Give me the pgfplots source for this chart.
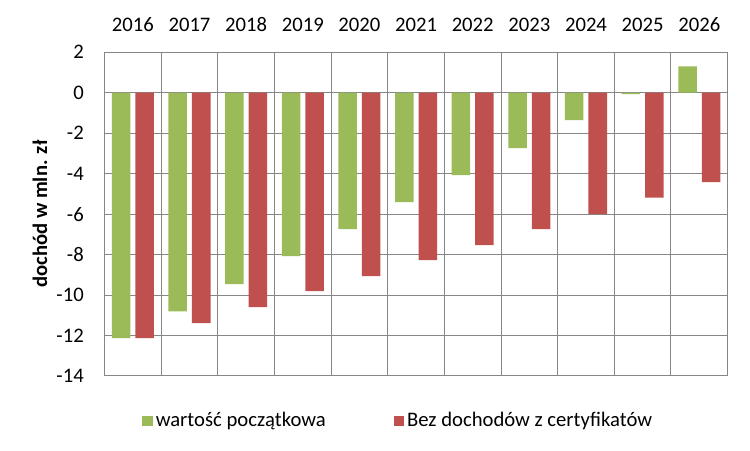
\documentclass[border=0pt]{standalone}
\usepackage{fontspec}
\setmainfont{Carlito}
\usepackage{pgfplots}
\pgfplotsset{compat=1.18}
\definecolor{zielony}{HTML}{9BBB59}
\definecolor{czerwony}{HTML}{C0504D}
\definecolor{siatka}{HTML}{868686}

\begin{document}
\fontsize{15.5}{18}\selectfont
\begin{tikzpicture}
\path[use as bounding box] (0,0) rectangle (562.5pt,337.5pt);
\begin{axis}[
    at={(78.4pt,55.5pt)}, anchor=south west,
    width=467.3pt, height=242.8pt, scale only axis,
    ybar=3.75pt, bar width=13.9pt,
    xmin=-0.5, xmax=10.5, ymin=-14, ymax=2,
    ytick distance=2,
    xtick={0,...,10},
    xticklabels={2016,2017,2018,2019,2020,2021,2022,2023,2024,2025,2026},
    minor xtick={-0.5,0.5,...,10.5},
    xminorgrids, ymajorgrids,
    grid style={siatka, line width=0.75pt},
    minor grid style={siatka, line width=0.75pt},
    axis line style={siatka, line width=0.75pt},
    major tick length=0pt, minor tick length=0pt,
    xticklabel pos=upper,
    /pgf/number format/assume math mode=true,
    every tick label/.append style={font=\fontsize{15.5}{18}\selectfont, inner sep=0pt},
    x tick label style={anchor=base, yshift=15.5pt},
    y tick label style={anchor=east, xshift=-15.4pt},
    ylabel={dochód w mln. zł},
    ylabel style={font=\fontsize{15.5}{18}\selectfont\bfseries, at={(axis description cs:-0.1035,0.5)}, anchor=center},
    legend style={at={(axis description cs:0.054,-0.139)}, anchor=west, draw=none,
        legend columns=2, font=\fontsize{15.5}{18}\selectfont,
        /tikz/every even column/.append style={column sep=49pt}},
    legend image code/.code={\fill[#1,draw=none] (0pt,-4pt) rectangle (8pt,4pt);},
]
% wartość początkowa
\addplot[fill=zielony, draw=none] coordinates {
    (0,-12.13) (1,-10.80) (2,-9.46) (3,-8.08) (4,-6.74) (5,-5.41)
    (6,-4.07) (7,-2.74) (8,-1.35) (9,-0.07) (10,1.30)};
% Bez dochodów z certyfikatów
\addplot[fill=czerwony, draw=none] coordinates {
    (0,-12.13) (1,-11.39) (2,-10.60) (3,-9.81) (4,-9.07) (5,-8.27)
    (6,-7.53) (7,-6.74) (8,-6.00) (9,-5.19) (10,-4.42)};
\legend{wartość początkowa,Bez dochodów z certyfikatów}
\end{axis}
\end{tikzpicture}
\end{document}
